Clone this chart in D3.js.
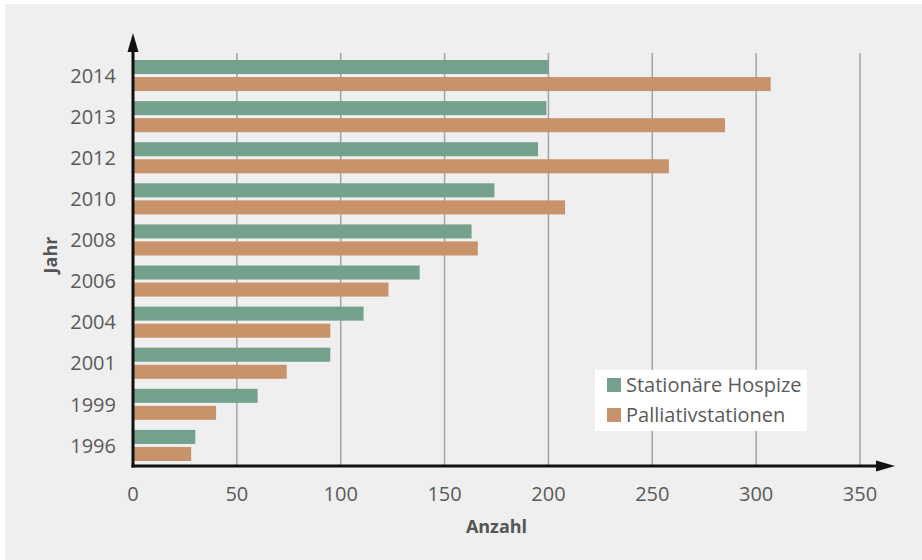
<!DOCTYPE html>
<html>
<head>
<meta charset="utf-8">
<script src="https://cdn.jsdelivr.net/npm/d3@7"></script>
<style>
  html, body { margin: 0; padding: 0; background: #ffffff; }
  svg { display: block; font-family: "Open Sans", sans-serif; }
</style>
</head>
<body>
<div id="chart"></div>
<script>
// Hospize und Palliativstationen in Deutschland
const years = ['2014', '2013', '2012', '2010', '2008', '2006', '2004', '2001', '1999', '1996'];
const seriesNames = ['Stationäre Hospize', 'Palliativstationen'];
const hospize = [200, 199, 195, 174, 163, 138, 111, 95, 60, 30];
const palliativ = [307, 285, 258, 208, 166, 123, 95, 74, 40, 28];
const xTicks = [0, 50, 100, 150, 200, 250, 300, 350];
const colors = ['#74a18c', '#c8926b'];

const W = 922, H = 560;
const x0 = 133, x350 = 860;
const yTop = 55, yBottom = 466;

const svg = d3.select('#chart').append('svg')
  .attr('width', W)
  .attr('height', H);

// grey panel
svg.append('rect')
  .attr('x', 5).attr('y', 4)
  .attr('width', W - 5).attr('height', H - 4)
  .attr('fill', '#efefef');

const x = d3.scaleLinear().domain([0, 350]).range([x0, x350]);
const y = d3.scaleBand().domain(years).range([yTop, yBottom])
  .paddingInner(10 / 41).paddingOuter(5 / 41);
const ySub = d3.scaleBand().domain(seriesNames).range([0, y.bandwidth()])
  .paddingInner(3 / 17);

// gridlines
svg.append('g')
  .selectAll('line')
  .data(xTicks.filter(d => d > 0))
  .join('line')
  .attr('x1', d => x(d)).attr('x2', d => x(d))
  .attr('y1', 53).attr('y2', yBottom)
  .attr('stroke', '#a3a3a3')
  .attr('stroke-width', 1.5);

// bars
const rows = years.map((yr, i) => ({ year: yr, values: [hospize[i], palliativ[i]] }));
const groups = svg.append('g')
  .selectAll('g')
  .data(rows)
  .join('g')
  .attr('transform', d => `translate(0,${y(d.year)})`);

groups.selectAll('rect')
  .data(d => d.values.map((v, j) => ({ name: seriesNames[j], value: v, color: colors[j] })))
  .join('rect')
  .attr('x', x(0))
  .attr('y', d => ySub(d.name))
  .attr('width', d => x(d.value) - x(0))
  .attr('height', ySub.bandwidth())
  .attr('fill', d => d.color);

// axes with arrows
svg.append('line')
  .attr('x1', x0).attr('x2', x0)
  .attr('y1', 50).attr('y2', yBottom + 1.5)
  .attr('stroke', '#111').attr('stroke-width', 3);
svg.append('path')
  .attr('d', `M${x0},33 L${x0 + 5.5},52 L${x0 - 5.5},52 Z`)
  .attr('fill', '#111');

svg.append('line')
  .attr('x1', x0 - 1.5).attr('x2', 878)
  .attr('y1', yBottom).attr('y2', yBottom)
  .attr('stroke', '#111').attr('stroke-width', 3);
svg.append('path')
  .attr('d', `M895,${yBottom} L876,${yBottom - 5.5} L876,${yBottom + 5.5} Z`)
  .attr('fill', '#111');

// x tick labels
svg.append('g')
  .selectAll('text')
  .data(xTicks)
  .join('text')
  .attr('x', d => x(d))
  .attr('y', 501)
  .attr('text-anchor', 'middle')
  .style('font-size', '20px')
  .style('fill', '#5a5a5a')
  .text(d => d);

// y labels
svg.append('g')
  .selectAll('text')
  .data(years)
  .join('text')
  .attr('x', 116)
  .attr('y', d => y(d) + y.bandwidth() / 2)
  .attr('dy', '0.36em')
  .attr('text-anchor', 'end')
  .style('font-size', '20px')
  .style('fill', '#5a5a5a')
  .text(d => d);

// axis titles
svg.append('text')
  .attr('x', x(175))
  .attr('y', 533)
  .attr('text-anchor', 'middle')
  .style('font-size', '18px')
  .style('font-weight', 'bold')
  .style('fill', '#555')
  .text('Anzahl');

svg.append('text')
  .attr('transform', 'translate(57,255) rotate(-90)')
  .attr('text-anchor', 'middle')
  .style('font-size', '18px')
  .style('font-weight', 'bold')
  .style('fill', '#555')
  .text('Jahr');

// legend
const legend = svg.append('g').attr('transform', 'translate(595,370)');
legend.append('rect')
  .attr('width', 212).attr('height', 61)
  .attr('fill', '#ffffff');
const items = legend.selectAll('g')
  .data(seriesNames)
  .join('g')
  .attr('transform', (d, i) => `translate(12,${8 + i * 30})`);
items.append('rect')
  .attr('width', 14).attr('height', 14)
  .attr('fill', (d, i) => colors[i]);
items.append('text')
  .attr('x', 19).attr('y', 7)
  .attr('dy', '0.36em')
  .style('font-size', '20px')
  .style('fill', '#5a5a5a')
  .text(d => d);
</script>
</body>
</html>
